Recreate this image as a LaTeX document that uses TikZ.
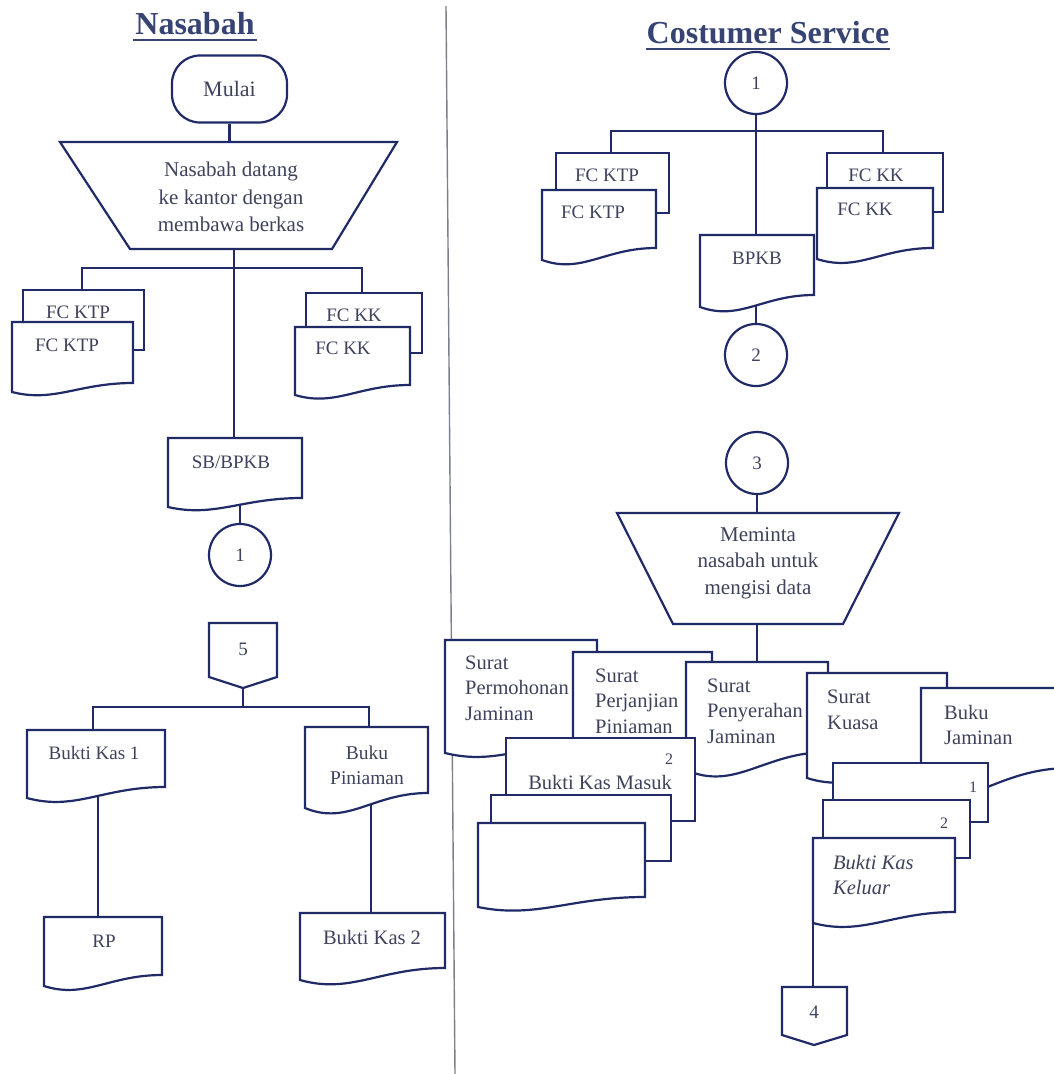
\documentclass[tikz,border=0pt]{standalone}
\usepackage{fontspec}
\setmainfont{Liberation Serif}
\usetikzlibrary{calc}
\definecolor{lncol}{RGB}{32,42,102}
\definecolor{txcol}{RGB}{62,66,92}
\definecolor{ttcol}{RGB}{55,68,115}
\definecolor{dvcol}{RGB}{125,128,140}
% document shape: [style] x0, ytop, x1, yRightBottom, yLeftBottom
\newcommand\docshape[6][]{%
  \pgfmathsetmacro\dsW{#4-#2}%
  \pgfmathsetmacro\dsA{#6-#5}%
  \pgfmathsetmacro\dsCa{#2+0.55*\dsW}%
  \pgfmathsetmacro\dsCb{#2+0.35*\dsW}%
  \pgfmathsetmacro\dsCy{#6+1.2*\dsA}%
  \draw[ln,fill=white,#1] (#2,#3) -- (#4,#3) -- (#4,#5) .. controls (\dsCa,#5) and (\dsCb,\dsCy) .. (#2,#6) -- cycle;}
\begin{document}
\begin{tikzpicture}[x=1pt,y=-1pt,
  ln/.style={draw=lncol,line width=2.2pt},
  txt/.style={text=txcol,inner sep=0pt,font=\fontsize{20.5}{26}\selectfont},
  ftx/.style={text=txcol,inner sep=0pt,font=\fontsize{19}{23}\selectfont},
  small/.style={text=txcol,inner sep=0pt,font=\fontsize{16}{18}\selectfont},
  cnode/.style={circle,draw=lncol,line width=2.2pt,fill=white,minimum size=62pt,inner sep=0pt,text=txcol,font=\fontsize{19}{22}\selectfont},
  ttl/.style={text=ttcol,inner sep=0pt,font=\bfseries\fontsize{32}{36}\selectfont},
  dv/.style={draw=dvcol,line width=1.4pt}]
\useasboundingbox (0,0) rectangle (1053,1074);
\fill[white] (0,0) rectangle (1053,1074);

% divider
\draw[dv] (446,6) -- (455,1074);

% titles
\node[ttl,anchor=base] (tNas) at (195,34) {Nasabah};
\draw[ttcol,line width=2pt] (133,40) -- (257,40);
\node[ttl,anchor=base] (tCS) at (768,43) {Costumer Service};
\draw[ttcol,line width=2pt] (646,49) -- (890,49);

% nodes with borders
\node[ln,fill=white,rounded corners=28pt,minimum width=115pt,minimum height=67pt,txt,font=\fontsize{22}{26}\selectfont] (mulai) at (229.5,89) {Mulai};
\node[cnode] (c1) at (240,555) {1};
\node[cnode] (cs1) at (756,83) {1};
\node[cnode] (cs2) at (756,355) {2};
\node[cnode] (cs3) at (757,463) {3};

% coordinates
\coordinate (tr1T) at (229.5,142);
\coordinate (tr1B) at (234,249);
\coordinate (j1) at (234,268);
\coordinate (ktp1T) at (82,290);
\coordinate (kk1T) at (362,293);
\coordinate (sbT) at (234,438);
\coordinate (sbB) at (240,502);
\coordinate (p5) at (243,688);
\coordinate (j5) at (243,707);
\coordinate (bk1T) at (93,730);
\coordinate (bpT) at (369,727);
\coordinate (bk1B) at (98,795);
\coordinate (rpT) at (98,917);
\coordinate (bpB) at (371,800);
\coordinate (bk2T) at (371,913);
\coordinate (j2) at (756,131);
\coordinate (ktp2T) at (611,153);
\coordinate (kk2T) at (883,153);
\coordinate (bpkbT) at (756,235);
\coordinate (bpkbB) at (756,300);
\coordinate (tr2T) at (757,513);
\coordinate (tr2B) at (757,624);
\coordinate (penT) at (757,662);
\coordinate (kelB) at (813,923);
\coordinate (c4T) at (813,987);

% connectors
\draw[ln] (mulai.south) -- (tr1T);
\draw[ln] (tr1B) -- (sbT);
\draw[ln] (ktp1T) |- (j1) -| (kk1T);
\draw[ln] (sbB) -- (c1);
\draw[ln] (p5) -- (j5);
\draw[ln] (bk1T) |- (j5) -| (bpT);
\draw[ln] (bk1B) -- (rpT);
\draw[ln] (bpB) -- (bk2T);
\draw[ln] (cs1) -- (bpkbT);
\draw[ln] (ktp2T) |- (j2) -| (kk2T);
\draw[ln] (bpkbB) -- (cs2);
\draw[ln] (cs3) -- (tr2T);
\draw[ln] (tr2B) -- (penT);
\draw[ln] (kelB) -- (c4T);

% ===== Left lane =====
\draw[ln,fill=white] (60,142) -- (397,142) -- (332,249) -- (130,249) -- cycle;
\node[txt,align=center,font=\fontsize{21}{27.5}\selectfont] (tr1) at (231,197) {Nasabah datang\\ke kantor dengan\\membawa berkas};

\draw[ln,fill=white] (23,290) rectangle (144,350);
\node[ftx] (fk1b) at (78,312) {FC KTP};
\docshape{12}{322}{133}{383}{392}
\node[ftx] (fk1f) at (67,345) {FC KTP};

\draw[ln,fill=white] (306,293) rectangle (422,353);
\node[ftx] (kk1b) at (354,315) {FC KK};
\docshape{295}{327}{410}{385}{395}
\node[ftx] (kk1f) at (343,348) {FC KK};

\docshape{168}{438}{302}{498}{507}
\node[ftx] (sb) at (231,462) {SB/BPKB};

\draw[ln,fill=white] (209,623) -- (277,623) -- (277,677) -- (243,688) -- (209,677) -- cycle;
\node[ftx] (n5) at (243,649) {5};

\docshape{27}{730}{165}{787}{798}
\node[ftx] (bk1) at (94,753) {Bukti Kas 1};
\docshape{305}{727}{428}{793}{808}
\node[txt,align=center,font=\fontsize{19.5}{25}\selectfont] (bp) at (367,765) {Buku\\Piniaman};
\docshape{44}{917}{162}{975}{986}
\node[ftx] (rp) at (104,941) {RP};
\docshape{300}{913}{445}{968}{980}
\node[txt] (bk2) at (372,937) {Bukti Kas 2};

% ===== Right lane top =====
\draw[ln,fill=white] (556,153) rectangle (669,213);
\node[ftx] (fk2b) at (607,175) {FC KTP};
\docshape{542}{190}{656}{248}{260}
\node[ftx] (fk2f) at (593,212) {FC KTP};

\draw[ln,fill=white] (827,153) rectangle (943,212);
\node[ftx] (kk2b) at (876,175) {FC KK};
\docshape{817}{188}{933}{248}{259}
\node[ftx] (kk2f) at (865,209) {FC KK};

\docshape{700}{235}{814}{295}{307}
\node[ftx] (bpkb) at (757,258) {BPKB};

\draw[ln,fill=white] (617,513) -- (899,513) -- (843,624) -- (673,624) -- cycle;
\node[txt,align=center,font=\fontsize{21}{26.5}\selectfont] (tr2) at (758,563) {Meminta\\nasabah untuk\\mengisi data};

% ===== Right lane documents =====
\docshape{445}{640}{597}{742}{753}
\node[txt,align=left,anchor=west,font=\fontsize{20.5}{25.5}\selectfont] (perm) at (465,688) {Surat\\Permohonan\\Jaminan};
\docshape{573}{652}{712}{760}{770}
\node[txt,align=left,anchor=west,font=\fontsize{20.5}{25.5}\selectfont] (perj) at (595,701) {Surat\\Perjanjian\\Piniaman};
\docshape{686}{662}{828}{752}{770}
\node[txt,align=left,anchor=west,font=\fontsize{20.5}{25.5}\selectfont] (peny) at (707,711) {Surat\\Penyerahan\\Jaminan};
\docshape{807}{673}{947}{765}{778}
\node[txt,align=left,anchor=west,font=\fontsize{20.5}{25.5}\selectfont] (kuasa) at (827,710) {Surat\\Kuasa};
\draw[ln,fill=white] (921,688) -- (1070,688) -- (1070,768) .. controls (1035,768) and (1010,778) .. (985,788) -- (921,795) -- cycle;
\node[txt,align=left,anchor=west,font=\fontsize{20.5}{25.5}\selectfont] (bj) at (944,725) {Buku\\Jaminan};

% Bukti Kas Masuk stack
\draw[ln,fill=white] (506,738) rectangle (695,821);
\node[small] (bkm2) at (669,759) {2};
\node[txt] (bkm) at (600,782) {Bukti Kas Masuk};
\draw[ln,fill=white] (491,795) rectangle (671,861);
\docshape{478}{823}{645}{897}{907}

% Bukti Kas Keluar stack
\draw[ln,fill=white] (833,763) rectangle (988,822);
\node[small] (bkk1) at (973,787) {1};
\draw[ln,fill=white] (823,800) rectangle (970,858);
\node[small] (bkk2) at (944,823) {2};
\docshape{813}{838}{955}{912}{923}
\node[txt,align=left,anchor=west,font=\itshape\fontsize{20.5}{25}\selectfont] (bkk) at (833,875) {Bukti Kas\\Keluar};

% off-page connector 4
\draw[ln,fill=white] (782,987) -- (847,987) -- (847,1035) -- (814,1045) -- (782,1035) -- cycle;
\node[ftx] (n4) at (814,1012) {4};
\end{tikzpicture}
\end{document}
